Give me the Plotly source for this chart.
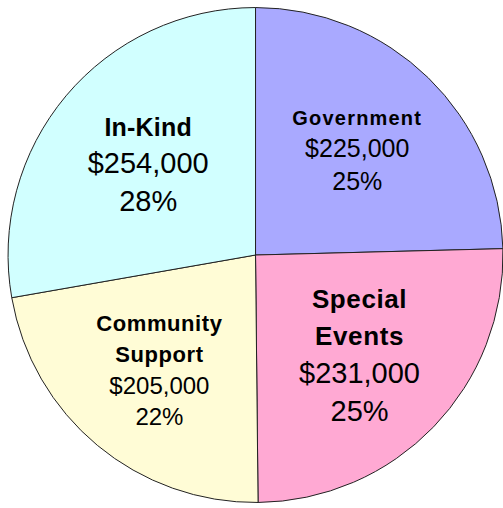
import plotly.graph_objects as go

categories = ["Government", "Special<br>Events", "Community<br>Support", "In-Kind"]
values = [225000, 231000, 205000, 254000]
colors = ["#A9A9FF", "#FFA9D3", "#FFFCD6", "#D1FFFF"]
title_sizes = [20, 26, 22, 25]
title_spacing = [1.2, 0.6, 0.6, 0.2]
number_sizes = [25, 29, 24, 29]

total = sum(values)
texts = []
for c, v, ts, sp in zip(categories, values, title_sizes, title_spacing):
    pct = round(100 * v / total)
    texts.append(
        f"<span style='font-size:{ts}px;letter-spacing:{sp}px'><b>{c}</b></span><br>${v:,.0f}<br>{pct}%"
    )

fig = go.Figure(
    go.Pie(
        labels=[c.replace("<br>", " ") for c in categories],
        values=values,
        text=texts,
        textinfo="text",
        textposition="inside",
        insidetextorientation="horizontal",
        sort=False,
        direction="clockwise",
        rotation=0,
        marker=dict(colors=colors, line=dict(color="#222222", width=1)),
        textfont=dict(family="Liberation Sans, Arial, sans-serif", size=number_sizes, color="#000000"),
        domain=dict(x=[0.016, 1.0], y=[0.006, 0.99]),
        hoverinfo="label+value+percent",
    )
)
fig.update_layout(
    width=503,
    height=508,
    margin=dict(l=0, r=0, t=0, b=0),
    paper_bgcolor="white",
    showlegend=False,
)
fig.write_html("out.html")
